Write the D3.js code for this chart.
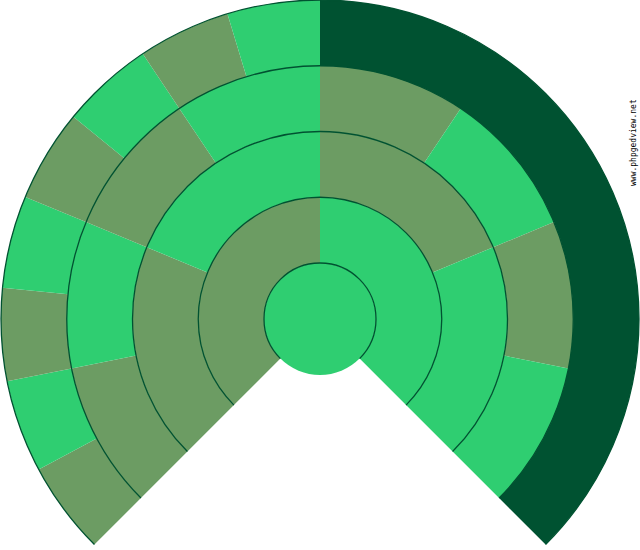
<!DOCTYPE html>
<html>
<head>
<meta charset="utf-8">
<script src="https://cdn.jsdelivr.net/npm/d3@7"></script>
<style>
  body { margin: 0; background: #fff; }
</style>
</head>
<body>
<svg id="drawing_region"></svg>
<script>
// generations (rings) from the centre outward
const generations = [1, 2, 3, 4, 5];

// segment widths (in units of the outer ring) and colour keys for each ring
const ring_spans = [
    [1],
    [1, 1],
    [1, 1, 1, 1],
    [1, 1, 1, 1, 1, 1, 1, 1],
    [1, 1, 1, 1, 1, 1, 1, 1, 8]
];
const ring_colors = [
    ["green"],
    ["olive", "green"],
    ["olive", "green", "olive", "green"],
    ["olive", "green", "olive", "green", "olive", "green", "olive", "green"],
    ["olive", "green", "olive", "green", "olive", "green", "olive", "green", "dark"]
];

const watermark = "www.phpgedview.net";

var config = {
    parent: '#drawing_region',
    width: 640,
    height: 550,
    cx: 320,
    cy: 319,
    inner: 56,
    outer: 319
};

const palette = { green: "#2fce71", olive: "#6c9c63", dark: "#005231" };

const svg = d3.select(config.parent)
    .attr('width', config.width)
    .attr('height', config.height);

const chart = svg.append('g')
    .attr('transform', `translate(${config.cx}, ${config.cy})`);

// radius of each ring edge
const rscale = d3.scaleLinear()
    .domain([1, generations.length])
    .range([config.inner, config.outer]);

const start = -3 * Math.PI / 4;
const end = 3 * Math.PI / 4;

const arc = d3.arc();

generations.forEach((g, i) => {
    const spans = ring_spans[i];
    const colors = ring_colors[i];
    if (i === 0) {
        // centre disc is a full circle
        chart.append('circle')
            .attr('r', rscale(1))
            .attr('fill', palette[colors[0]]);
        return;
    }
    const pie = d3.pie().sort(null).value(d => d)
        .startAngle(start).endAngle(end);
    const slices = pie(spans);
    chart.append('g').selectAll('path')
        .data(slices)
        .join('path')
        .attr('d', d => arc({
            innerRadius: rscale(g - 1),
            outerRadius: rscale(g),
            startAngle: d.startAngle,
            endAngle: d.endAngle
        }))
        .attr('fill', (d, j) => palette[colors[j]]);
});

// outline arcs at every ring edge
chart.append('g').selectAll('path')
    .data(generations)
    .join('path')
    .attr('d', g => {
        const p = d3.path();
        const r = rscale(g);
        p.arc(0, 0, r, start - Math.PI / 2, end - Math.PI / 2);
        return p.toString();
    })
    .attr('fill', 'none')
    .attr('stroke', palette.dark)
    .attr('stroke-width', 1.3);

svg.append('text')
    .attr('transform', 'translate(636, 186) rotate(-90)')
    .attr('font-family', 'DejaVu Sans Mono, monospace')
    .attr('font-size', 8)
    .attr('fill', '#000')
    .text(watermark);
</script>
</body>
</html>
